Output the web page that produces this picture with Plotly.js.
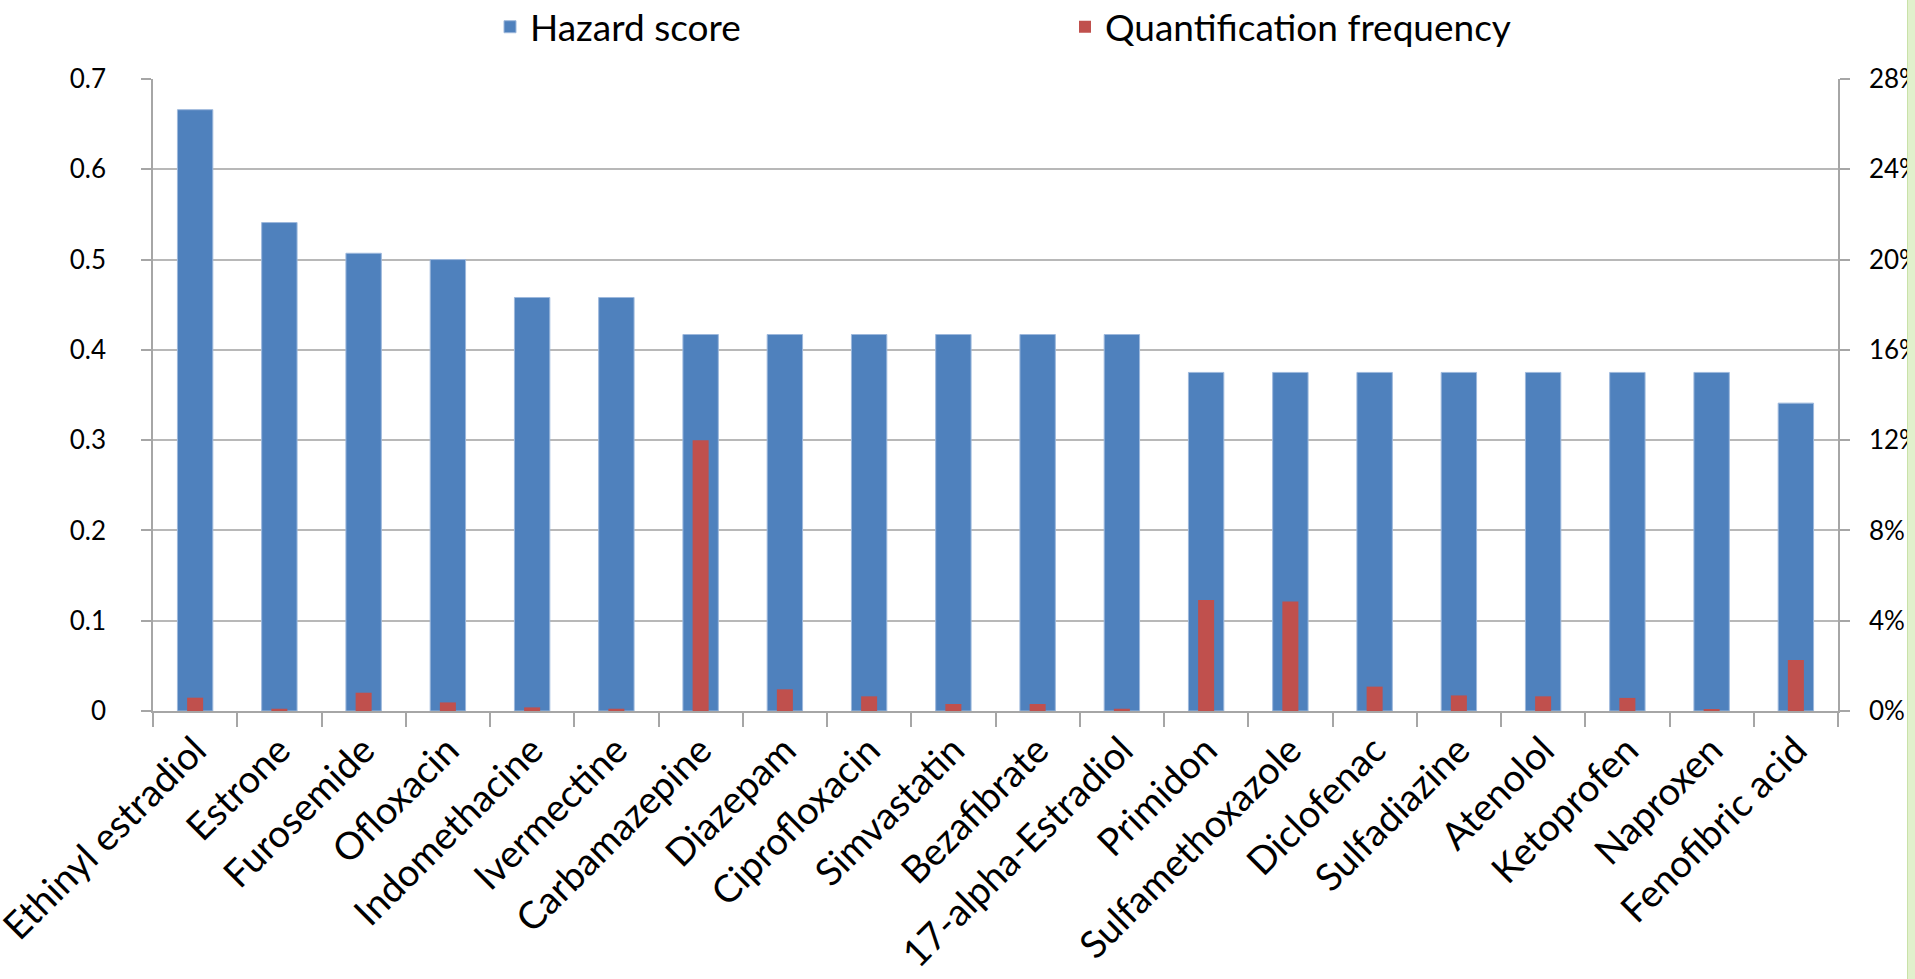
<!DOCTYPE html>
<html>
<head>
<meta charset="utf-8">
<script src="https://cdn.plot.ly/plotly-3.0.1.min.js"></script>
<style>
  html, body { margin: 0; padding: 0; background: #ffffff; overflow: hidden; }
  #chart { width: 1915px; height: 979px; }
  #edge { position: absolute; left: 1907px; top: 0; width: 8px; height: 979px;
          background: #e1f0cc; border-left: 1px solid #c9e2a8; }
</style>
</head>
<body>
<div id="chart"></div>
<div id="edge"></div>
<script>
const categories = ["Ethinyl estradiol", "Estrone", "Furosemide", "Ofloxacin", "Indomethacine",
  "Ivermectine", "Carbamazepine", "Diazepam", "Ciprofloxacin", "Simvastatin", "Bezafibrate",
  "17-alpha-Estradiol", "Primidon", "Sulfamethoxazole", "Diclofenac", "Sulfadiazine",
  "Atenolol", "Ketoprofen", "Naproxen", "Fenofibric acid"];

const hazardScore = [0.666, 0.541, 0.507, 0.500, 0.458, 0.458, 0.417, 0.417, 0.417, 0.417,
  0.417, 0.417, 0.375, 0.375, 0.375, 0.375, 0.375, 0.375, 0.375, 0.341];

// quantification frequency (fraction, right axis)
const quantFrequency = [0.0059, 0.0010, 0.0081, 0.0038, 0.0016, 0.0010, 0.1200, 0.0096,
  0.0065, 0.0031, 0.0031, 0.0010, 0.0492, 0.0485, 0.0108, 0.0069, 0.0065, 0.0058,
  0.0007, 0.0226];

const leftTicks = [0, 0.1, 0.2, 0.3, 0.4, 0.5, 0.6, 0.7];
const rightTicks = [0, 0.04, 0.08, 0.12, 0.16, 0.20, 0.24, 0.28];

const FONT = "Lato, 'Open Sans', sans-serif";

const traces = [
  {
    type: "bar",
    name: "Hazard score",
    x: categories,
    y: hazardScore,
    yaxis: "y",
    width: 0.42,
    marker: { color: "#4f81bd", line: { color: "#9db8dc", width: 1 } },
    hoverinfo: "x+y"
  },
  {
    type: "bar",
    name: "Quantification frequency",
    x: categories,
    y: quantFrequency,
    yaxis: "y2",
    width: 0.19,
    marker: { color: "#c0504d" },
    hoverinfo: "x+y"
  }
];

const layout = {
  width: 1915,
  height: 979,
  margin: { l: 153, r: 77, t: 79, b: 268, pad: 0, autoexpand: false },
  paper_bgcolor: "#ffffff",
  plot_bgcolor: "#ffffff",
  barmode: "overlay",
  font: { family: FONT, color: "#000000", size: 26 },
  showlegend: true,
  legend: {
    orientation: "h",
    x: 0.2,
    xanchor: "left",
    y: 1.082,
    yanchor: "middle",
    entrywidth: 530,
    entrywidthmode: "pixels",
    font: { family: FONT, size: 37, color: "#000000" },
    bgcolor: "rgba(0,0,0,0)"
  },
  xaxis: {
    type: "category",
    automargin: false,
    tickangle: -45,
    tickson: "boundaries",
    ticks: "outside",
    ticklen: 14,
    tickcolor: "#a6a6a6",
    tickwidth: 1.5,
    showline: true,
    linecolor: "#a6a6a6",
    linewidth: 1.5,
    showgrid: false,
    tickfont: { family: FONT, size: 38, color: "#000000" },
    fixedrange: true
  },
  yaxis: {
    automargin: false,
    range: [0, 0.7],
    tickvals: leftTicks,
    ticktext: leftTicks.map(v => String(v)),
    ticks: "outside",
    ticklen: 10,
    ticklabelstandoff: 30,
    tickcolor: "#a6a6a6",
    tickwidth: 1.5,
    showline: true,
    linecolor: "#a6a6a6",
    linewidth: 1.5,
    showgrid: true,
    gridcolor: "#b8b8b8",
    gridwidth: 1.5,
    zeroline: false,
    tickfont: { family: FONT, size: 26, color: "#000000" },
    fixedrange: true
  },
  yaxis2: {
    automargin: false,
    overlaying: "y",
    side: "right",
    range: [0, 0.28],
    tickvals: rightTicks,
    tickformat: ".0%",
    ticks: "outside",
    ticklen: 10,
    ticklabelstandoff: 14,
    tickcolor: "#a6a6a6",
    tickwidth: 1.5,
    showline: true,
    linecolor: "#a6a6a6",
    linewidth: 1.5,
    showgrid: false,
    zeroline: false,
    tickfont: { family: FONT, size: 26, color: "#000000" },
    fixedrange: true
  }
};

Plotly.newPlot("chart", traces, layout, { displayModeBar: false, staticPlot: false });
</script>
</body>
</html>
